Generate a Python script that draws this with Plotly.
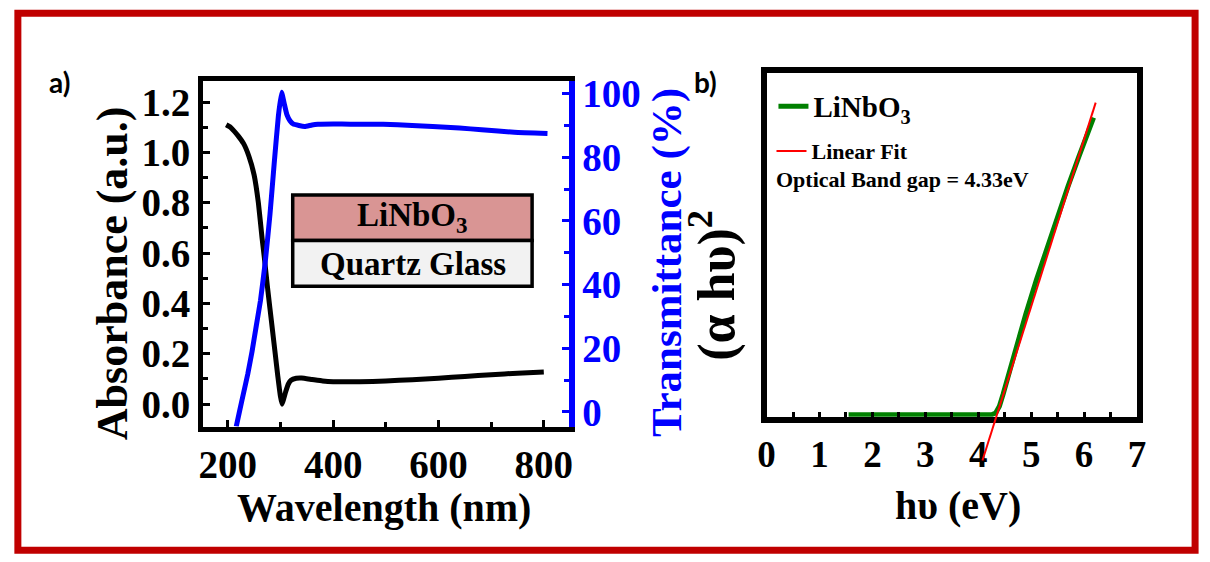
import plotly.graph_objects as go

# ---------------- data: panel a) ----------------
wl_abs = [197, 205, 212, 220, 230, 240, 250, 258, 265, 270, 275, 280, 285, 290, 295,
          300, 303, 306, 310, 315, 320, 330, 340, 360, 380, 400, 450, 500, 550,
          600, 650, 700, 750, 800]
absorbance = [1.11, 1.10, 1.085, 1.065, 1.035, 0.985, 0.91, 0.80, 0.66, 0.57, 0.47, 0.38,
              0.29, 0.20, 0.11, 0.03, 0.00, 0.02, 0.05, 0.08, 0.095, 0.103, 0.104,
              0.098, 0.092, 0.089, 0.089, 0.092, 0.097, 0.103, 0.110, 0.117, 0.123, 0.128]

wl_tr = [216, 222, 230, 238, 246, 254, 262, 271, 280, 288, 296, 302, 307, 312, 318,
         324, 335, 346, 360, 371, 400, 433, 495, 550, 589, 640, 682, 744, 807]
transmittance = [-4.6, 0.0, 6.0, 12.0, 19.0, 27.0, 35.0, 47.0, 62.0, 78.0, 93.0, 100.5,
                 97.0, 93.5, 91.5, 90.5, 90.0, 89.7, 90.2, 90.4, 90.5, 90.4, 90.4, 90.0,
                 89.7, 89.2, 88.7, 87.9, 87.5]

# ---------------- data: panel b) ----------------
hv = [1.55, 2.0, 2.5, 3.0, 3.5, 4.0, 4.25, 4.33, 4.40, 4.47, 4.55, 4.7, 4.9, 5.1,
      5.3, 5.5, 5.7, 5.9, 6.05, 6.18]
ahv2 = [0, 0, 0, 0, 0, 0, 0.0, 0.05, 0.25, 0.6, 1.05, 1.85, 2.95, 3.95, 4.9, 5.8,
        6.7, 7.55, 8.15, 8.7]
fit_hv = [4.08, 6.22]
fit_ahv2 = [-1.34, 9.14]

x_ticks_a = [200, 400, 600, 800]
x_ticks_b = [0, 1, 2, 3, 4, 5, 6, 7]
band_gap_text = "Optical Band gap = 4.33eV"

# ---------------- layout helpers ----------------
W, H = 1210, 562
def fx(p):
    return p / W
def fy(p):
    return 1 - p / H

SERIF = "Liberation Serif"
BLUE = "#0000FF"

# inner plot boxes (pixels)
A_X0, A_X1, A_Y0, A_Y1 = 197, 568, 75, 430
B_X0, B_X1, B_Y0, B_Y1 = 769, 1145, 67, 420
B_EXT = 472  # extended lower edge for the fit line

yb_range = [-0.06, 10.0]
scale_b = (yb_range[1] - yb_range[0]) / (B_Y1 - B_Y0)
yb_ext_range = [yb_range[0] - (B_EXT - B_Y1) * scale_b, yb_range[1]]

fig = go.Figure()

fig.add_trace(go.Scatter(x=wl_tr, y=transmittance, mode="lines", xaxis="x", yaxis="y2",
                         line=dict(color=BLUE, width=5, shape="spline", smoothing=0.4),
                         showlegend=False))
fig.add_trace(go.Scatter(x=wl_abs, y=absorbance, mode="lines", xaxis="x", yaxis="y",
                         line=dict(color="black", width=5, shape="spline", smoothing=0.4),
                         showlegend=False))

fig.add_trace(go.Scatter(x=hv, y=ahv2, mode="lines", xaxis="x2", yaxis="y3",
                         name="LiNbO<sub>3</sub>", legend="legend",
                         line=dict(color="#008000", width=5)))
fig.add_trace(go.Scatter(x=fit_hv, y=fit_ahv2, mode="lines", xaxis="x2", yaxis="y4",
                         name="Linear Fit", legend="legend2",
                         line=dict(color="#FF0000", width=2)))

tickfont_a = dict(family=SERIF, size=39, color="black", weight="bold")
tickfont_b = dict(family=SERIF, size=37, color="black", weight="bold")

fig.update_layout(
    width=W, height=H,
    margin=dict(l=0, r=0, t=0, b=0),
    paper_bgcolor="white",
    plot_bgcolor="rgba(0,0,0,0)",
    xaxis=dict(domain=[fx(A_X0), fx(A_X1)], range=[153, 847], anchor="y",
               showline=True, linecolor="black", linewidth=5, mirror=True,
               ticks="inside", ticklen=7, tickwidth=3, tickcolor="black",
               tickvals=x_ticks_a,
               minor=dict(dtick=100, ticks="inside", ticklen=5, tickwidth=3, tickcolor="black"),
               showgrid=False, zeroline=False, tickfont=tickfont_a),
    yaxis=dict(domain=[fy(A_Y1), fy(A_Y0)], range=[-0.089, 1.284], anchor="x",
               showline=True, linecolor="black", linewidth=5,
               ticks="inside", ticklen=7, tickwidth=3, tickcolor="black",
               dtick=0.2, tick0=0, tickformat=".1f",
               minor=dict(dtick=0.1, ticks="inside", ticklen=5, tickwidth=3, tickcolor="black"),
               showgrid=False, zeroline=False, tickfont=tickfont_a),
    yaxis2=dict(overlaying="y", side="right", anchor="x", range=[-4.6, 104],
                showline=True, linecolor=BLUE, linewidth=6,
                ticks="inside", ticklen=7, tickwidth=3, tickcolor=BLUE,
                dtick=20, tick0=0,
                minor=dict(dtick=10, ticks="inside", ticklen=5, tickwidth=3, tickcolor=BLUE),
                showgrid=False, zeroline=False,
                tickfont=dict(family=SERIF, size=39, color=BLUE, weight="bold")),
    xaxis2=dict(domain=[fx(B_X0), fx(B_X1)], range=[0, 7], anchor="y3",
                showline=True, linecolor="black", linewidth=6, mirror=True,
                ticks="inside", ticklen=5, tickwidth=3, tickcolor="black",
                tickvals=x_ticks_b,
                minor=dict(dtick=0.5, ticks="inside", ticklen=5, tickwidth=3, tickcolor="black"),
                showgrid=False, zeroline=False, tickfont=tickfont_b),
    yaxis3=dict(domain=[fy(B_Y1), fy(B_Y0)], range=yb_range, anchor="x2",
                showline=True, linecolor="black", linewidth=6, mirror=True,
                ticks="", showticklabels=False, showgrid=False, zeroline=False),
    yaxis4=dict(domain=[fy(B_EXT), fy(B_Y0)], range=yb_ext_range, anchor="x2",
                visible=False, showgrid=False, zeroline=False),
    yaxis5=dict(overlaying="y3", side="right", anchor="x2", range=yb_range,
                tickvals=[0.9, 5.4], ticks="inside", ticklen=5, tickwidth=2,
                tickcolor="black", showticklabels=False, showline=False,
                showgrid=False, zeroline=False),
    legend=dict(x=fx(776), y=fy(101), xanchor="left", yanchor="middle",
                bgcolor="rgba(0,0,0,0)", borderwidth=0,
                font=dict(family=SERIF, size=29, color="black", weight="bold")),
    legend2=dict(x=fx(774), y=fy(147), xanchor="left", yanchor="middle",
                 bgcolor="rgba(0,0,0,0)", borderwidth=0,
                 font=dict(family=SERIF, size=22, color="black", weight="bold")),
)

# inset layer boxes
fig.add_shape(type="rect", xref="paper", yref="paper",
              x0=fx(288), x1=fx(531), y0=fy(239), y1=fy(192),
              fillcolor="#D99594", line=dict(color="black", width=3.5))
fig.add_shape(type="rect", xref="paper", yref="paper",
              x0=fx(288), x1=fx(531), y0=fy(286), y1=fy(239),
              fillcolor="#F2F2F2", line=dict(color="black", width=3.5))

# outer red frame
fig.add_shape(type="rect", xref="paper", yref="paper",
              x0=fx(9), x1=fx(1204), y0=fy(557), y1=fy(5.5),
              line=dict(color="#C00000", width=7))

ann = []
def add_text(text, x, y, size, color="black", angle=0, family=SERIF, xanchor="center"):
    ann.append(dict(text=text, x=fx(x), y=fy(y), xref="paper", yref="paper",
                    showarrow=False, textangle=angle, xanchor=xanchor, yanchor="middle",
                    font=dict(family=family, size=size, color=color, weight="bold")))

add_text("LiNbO<sub>3</sub>", 410, 215, 33)
add_text("Quartz Glass", 410, 263, 33)
add_text("Absorbance (a.u.)", 105, 272, 44, angle=-90)
add_text("Transmittance (%)", 668, 262, 43, color=BLUE, angle=-90)
add_text("Wavelength (nm)", 381, 513, 40)
add_text("hυ (eV)", 963, 511, 40)
add_text("(α hυ)<sup>2</sup>", 715, 285, 52, angle=-90)
add_text(band_gap_text, 777, 176, 22, xanchor="left")
add_text("a)", 51, 76, 28, family="Lato")
add_text("b)", 707, 76, 28, family="Lato")
fig.update_layout(annotations=ann)

fig.write_html("out.html")
